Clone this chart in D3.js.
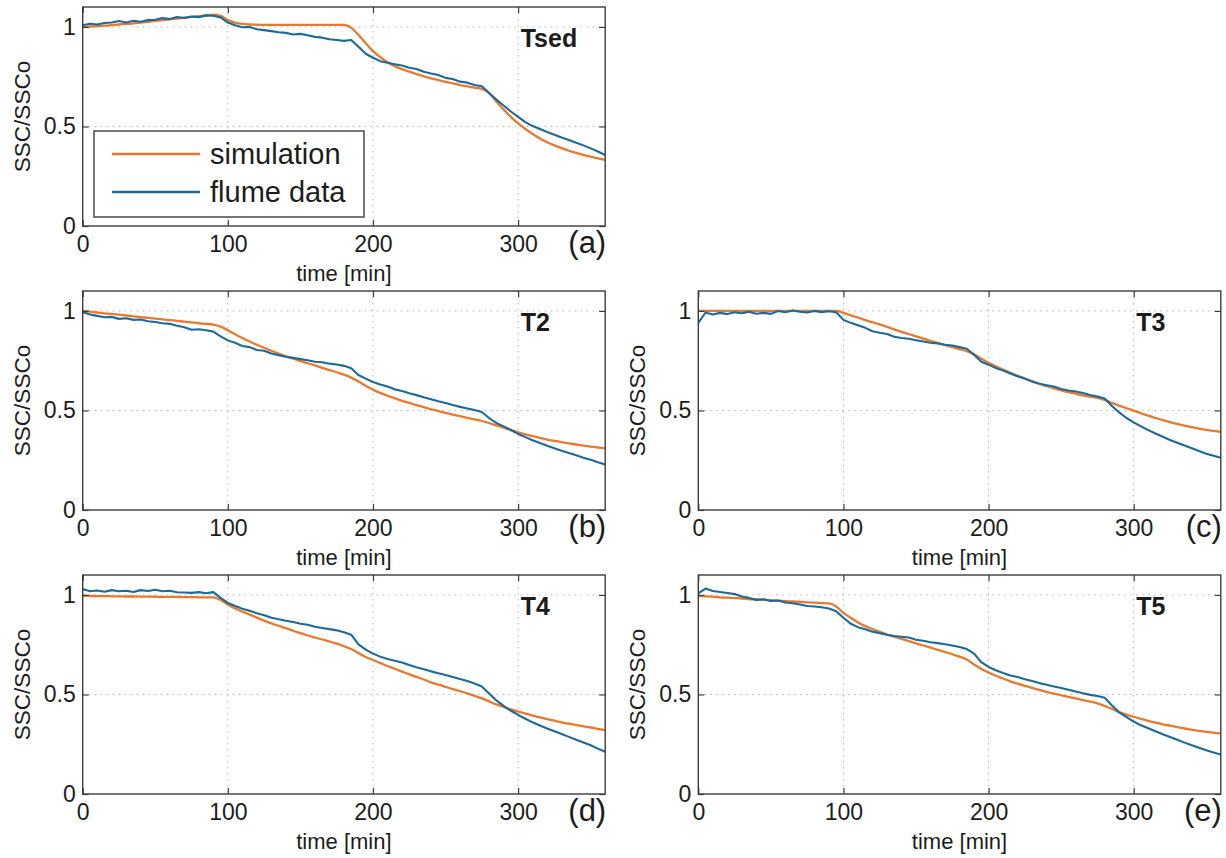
<!DOCTYPE html>
<html>
<meta charset="utf-8">
<script src="https://d3js.org/d3.v7.min.js"></script>

<style>
    body { margin: 0; background: #fff; }
    text { font-family: Arial, "Liberation Sans", sans-serif; fill: #1c1c1c; }
    .grid { stroke: #b5b5b5; stroke-width: 1; stroke-dasharray: 1.5,4.5; }
    .frame { fill: none; stroke: #3c3c3c; stroke-width: 1.4; }
</style>

<div id="fig"></div>

<script>

// time axis of every series [min], one sample each 5 min
var time = d3.range(0, 361, 5);

// SSC/SSCo
var simTsed = [
    1.000,1.002,1.004,1.006,1.009,1.012,1.015,1.018,1.022,1.026,
    1.030,1.034,1.038,1.042,1.046,1.050,1.054,1.058,1.061,1.055,
    1.035,1.022,1.015,1.012,1.011,1.010,1.010,1.010,1.010,1.010,
    1.010,1.010,1.010,1.010,1.010,1.010,1.010,0.995,0.960,0.918,
    0.878,0.848,0.823,0.803,0.788,0.775,0.763,0.752,0.742,0.733,
    0.724,0.716,0.708,0.701,0.695,0.688,0.668,0.625,0.585,0.548,
    0.515,0.487,0.462,0.440,0.421,0.405,0.391,0.378,0.367,0.357,
    0.348,0.340,0.332];
var flumeTsed = [
    1.008,1.016,1.012,1.020,1.022,1.030,1.022,1.031,1.026,1.034,
    1.036,1.044,1.040,1.050,1.045,1.052,1.049,1.058,1.056,1.048,
    1.022,1.008,0.998,1.000,0.988,0.984,0.979,0.973,0.970,0.962,
    0.965,0.958,0.950,0.946,0.938,0.934,0.930,0.934,0.900,0.865,
    0.845,0.828,0.820,0.812,0.806,0.795,0.789,0.775,0.766,0.758,
    0.744,0.738,0.725,0.720,0.708,0.702,0.668,0.635,0.605,0.575,
    0.548,0.522,0.502,0.487,0.472,0.458,0.445,0.432,0.418,0.405,
    0.390,0.374,0.357];

var simT2 = [
    1.000,0.996,0.992,0.988,0.985,0.981,0.977,0.973,0.969,0.965,
    0.961,0.958,0.954,0.950,0.946,0.942,0.938,0.935,0.931,0.921,
    0.903,0.883,0.864,0.846,0.830,0.815,0.800,0.786,0.772,0.760,
    0.748,0.737,0.726,0.714,0.703,0.692,0.680,0.665,0.645,0.624,
    0.604,0.588,0.574,0.561,0.548,0.538,0.527,0.517,0.506,0.497,
    0.488,0.479,0.471,0.463,0.455,0.447,0.437,0.425,0.413,0.401,
    0.390,0.380,0.371,0.362,0.354,0.347,0.341,0.335,0.329,0.323,
    0.318,0.314,0.310];
var flumeT2 = [
    0.995,0.982,0.975,0.968,0.970,0.960,0.963,0.955,0.957,0.948,
    0.944,0.938,0.935,0.925,0.918,0.905,0.908,0.903,0.896,0.872,
    0.852,0.840,0.824,0.818,0.804,0.800,0.786,0.778,0.770,0.764,
    0.758,0.752,0.745,0.742,0.735,0.731,0.724,0.712,0.678,0.660,
    0.643,0.630,0.620,0.606,0.598,0.586,0.577,0.566,0.556,0.546,
    0.537,0.527,0.518,0.510,0.502,0.492,0.462,0.437,0.420,0.402,
    0.382,0.366,0.350,0.337,0.323,0.310,0.298,0.286,0.275,0.263,
    0.252,0.240,0.229];

var simT3 = [
    1.000,1.000,1.000,1.000,1.000,1.000,1.000,1.000,1.000,1.000,
    1.000,1.000,1.000,1.000,1.000,1.000,1.000,1.000,1.000,1.000,
    0.990,0.978,0.966,0.954,0.943,0.932,0.920,0.907,0.895,0.884,
    0.872,0.861,0.850,0.839,0.828,0.818,0.808,0.798,0.782,0.760,
    0.740,0.722,0.705,0.689,0.674,0.660,0.646,0.634,0.622,0.611,
    0.601,0.592,0.584,0.576,0.569,0.563,0.553,0.538,0.524,0.511,
    0.499,0.486,0.474,0.462,0.451,0.441,0.432,0.424,0.416,0.409,
    0.402,0.397,0.392];
var flumeT3 = [
    0.940,0.992,0.982,0.990,0.984,0.993,0.988,0.996,0.986,0.990,
    0.985,1.000,0.993,1.002,0.996,0.992,1.000,0.994,0.998,0.993,
    0.955,0.940,0.928,0.915,0.898,0.890,0.884,0.870,0.864,0.860,
    0.853,0.846,0.840,0.836,0.830,0.826,0.818,0.810,0.780,0.745,
    0.730,0.713,0.700,0.686,0.672,0.660,0.645,0.634,0.627,0.620,
    0.608,0.600,0.595,0.588,0.578,0.570,0.560,0.522,0.490,0.462,
    0.440,0.420,0.401,0.384,0.368,0.352,0.338,0.324,0.310,0.296,
    0.283,0.272,0.262];

var simT4 = [
    0.995,0.995,0.994,0.994,0.993,0.993,0.992,0.992,0.991,0.991,
    0.991,0.990,0.990,0.990,0.989,0.989,0.988,0.988,0.988,0.975,
    0.952,0.932,0.916,0.901,0.886,0.871,0.857,0.845,0.833,0.820,
    0.808,0.796,0.786,0.776,0.766,0.755,0.742,0.728,0.708,0.688,
    0.673,0.658,0.643,0.629,0.615,0.601,0.588,0.575,0.561,0.549,
    0.538,0.527,0.516,0.505,0.493,0.480,0.465,0.450,0.437,0.425,
    0.414,0.404,0.394,0.385,0.376,0.368,0.360,0.353,0.346,0.340,
    0.334,0.327,0.321];
var flumeT4 = [
    1.030,1.018,1.022,1.016,1.024,1.018,1.021,1.015,1.024,1.020,
    1.026,1.018,1.021,1.013,1.012,1.010,1.014,1.008,1.014,0.985,
    0.960,0.944,0.930,0.920,0.908,0.898,0.885,0.878,0.870,0.864,
    0.855,0.850,0.840,0.834,0.828,0.822,0.812,0.800,0.752,0.725,
    0.705,0.690,0.678,0.669,0.660,0.648,0.637,0.627,0.616,0.607,
    0.598,0.588,0.578,0.568,0.555,0.540,0.505,0.470,0.443,0.418,
    0.397,0.378,0.360,0.344,0.329,0.315,0.301,0.287,0.273,0.259,
    0.245,0.228,0.212];

var simT5 = [
    0.995,0.993,0.991,0.988,0.986,0.984,0.982,0.979,0.977,0.975,
    0.973,0.971,0.969,0.967,0.965,0.963,0.961,0.959,0.957,0.942,
    0.910,0.885,0.862,0.843,0.828,0.814,0.801,0.790,0.779,0.768,
    0.757,0.746,0.735,0.724,0.713,0.702,0.690,0.675,0.650,0.628,
    0.610,0.594,0.580,0.566,0.554,0.543,0.533,0.523,0.513,0.504,
    0.496,0.488,0.480,0.472,0.464,0.455,0.442,0.427,0.412,0.399,
    0.388,0.377,0.367,0.358,0.350,0.343,0.336,0.329,0.323,0.317,
    0.312,0.308,0.304];
var flumeT5 = [
    1.008,1.032,1.020,1.015,1.010,1.004,0.992,0.985,0.975,0.978,
    0.970,0.972,0.962,0.958,0.952,0.944,0.942,0.938,0.932,0.918,
    0.885,0.855,0.838,0.828,0.815,0.808,0.800,0.794,0.790,0.786,
    0.775,0.770,0.762,0.758,0.752,0.746,0.738,0.728,0.705,0.662,
    0.638,0.622,0.608,0.595,0.588,0.576,0.568,0.557,0.549,0.540,
    0.532,0.524,0.515,0.506,0.498,0.492,0.483,0.445,0.410,0.386,
    0.364,0.345,0.330,0.315,0.300,0.286,0.272,0.258,0.245,0.232,
    0.220,0.209,0.198];

var panelNames   = ["Tsed", "T2", "T3", "T4", "T5"];
var panelLetters = ["(a)", "(b)", "(c)", "(d)", "(e)"];
var simSeries    = [simTsed, simT2, simT3, simT4, simT5];
var flumeSeries  = [flumeTsed, flumeT2, flumeT3, flumeT4, flumeT5];

var xTicks = [0, 100, 200, 300];
var yTicks = [0, 0.5, 1];
var yTickLabels = ["0", "0.5", "1"];
var legendLabels = ["simulation", "flume data"];

//------------//
//   Layout   //
//------------//

var colLeft = [82.7, 698.3];
var rowTop  = [7, 291, 575];
// panel -> [column, row]
var slot = [[0, 0], [0, 1], [1, 1], [0, 2], [1, 2]];

var width = 522.5,
    height = 219;

var simColour = "#e8792f",
    flumeColour = "#1b6a9a";

var svg = d3.select("#fig")
    .append("svg")
        .attr("width", 1226)
        .attr("height", 858);

var x = d3.scaleLinear().domain([0, 360]).range([0, width]);
var y = d3.scaleLinear().domain([0, 1.1]).range([height, 0]);

svg.append("clipPath").attr("id", "plotClip")
    .append("rect")
        .attr("width", width)
        .attr("height", height);

var simLine = d3.line()
    .x(function(d, i) { return x(time[i]); })
    .y(function(d) { return y(d); })
    .curve(d3.curveMonotoneX);

var flumeLine = d3.line()
    .x(function(d, i) { return x(time[i]); })
    .y(function(d) { return y(d); });

panelNames.forEach(function(name, p) {

    var g = svg.append("g")
        .attr("transform", "translate(" + colLeft[slot[p][0]] + "," + rowTop[slot[p][1]] + ")");

    // dotted grid
    g.selectAll(".gx")
        .data(xTicks.slice(1))
        .enter()
        .append("line")
            .attr("class", "grid")
            .attr("x1", function(d) { return x(d); })
            .attr("x2", function(d) { return x(d); })
            .attr("y1", 0)
            .attr("y2", height);
    g.selectAll(".gy")
        .data(yTicks.slice(1))
        .enter()
        .append("line")
            .attr("class", "grid")
            .attr("x1", 0)
            .attr("x2", width)
            .attr("y1", function(d) { return y(d); })
            .attr("y2", function(d) { return y(d); });

    // the two curves
    var lines = g.append("g").attr("clip-path", "url(#plotClip)");
    lines.append("path")
        .datum(simSeries[p])
        .attr("d", simLine)
        .attr("fill", "none")
        .attr("stroke", simColour)
        .attr("stroke-width", 2.3);
    lines.append("path")
        .datum(flumeSeries[p])
        .attr("d", flumeLine)
        .attr("fill", "none")
        .attr("stroke", flumeColour)
        .attr("stroke-width", 2.1)
        .attr("stroke-linejoin", "round");

    // axes: inward ticks on all four sides
    g.append("g")
        .attr("transform", "translate(0," + height + ")")
        .call(d3.axisBottom(x).tickValues(xTicks).tickSize(-6).tickPadding(10))
        .call(styleAxis);
    g.append("g")
        .call(d3.axisTop(x).tickValues(xTicks).tickSize(-6).tickFormat(""))
        .call(styleAxis);
    g.append("g")
        .call(d3.axisLeft(y).tickValues(yTicks).tickSize(-6).tickPadding(7)
            .tickFormat(function(d, i) { return yTickLabels[i]; }))
        .call(styleAxis);
    g.append("g")
        .attr("transform", "translate(" + width + ",0)")
        .call(d3.axisRight(y).tickValues(yTicks).tickSize(-6).tickFormat(""))
        .call(styleAxis);

    g.append("rect")
        .attr("class", "frame")
        .attr("width", width)
        .attr("height", height);

    // labels
    g.append("text")
        .attr("x", width / 2)
        .attr("y", height + 55)
        .attr("text-anchor", "middle")
        .style("font-size", "22px")
        .text("time [min]");

    g.append("text")
        .attr("transform", "translate(-61," + (height / 2) + ") rotate(-90)")
        .attr("text-anchor", "middle")
        .attr("dy", "0.35em")
        .style("font-size", "22.5px")
        .text("SSC/SSCo");

    g.append("text")
        .attr("x", 438)
        .attr("y", 40)
        .style("font-size", "25px")
        .style("font-weight", "bold")
        .text(name);

    g.append("text")
        .attr("x", width + 1)
        .attr("y", height + 27)
        .attr("text-anchor", "end")
        .style("font-size", "31px")
        .text(panelLetters[p]);

    //------------//
    //   Legend   //
    //------------//
    if (p === 0) {
        var lg = g.append("g").attr("transform", "translate(11.3,124)");
        lg.append("rect")
            .attr("width", 270)
            .attr("height", 86)
            .attr("fill", "#fff")
            .attr("stroke", "#3c3c3c")
            .attr("stroke-width", 1.4);
        lg.selectAll("legline")
            .data(legendLabels)
            .enter()
            .append("line")
                .attr("x1", 18)
                .attr("x2", 106)
                .attr("y1", function(d, i) { return 23 + i * 38; })
                .attr("y2", function(d, i) { return 23 + i * 38; })
                .attr("stroke", function(d, i) { return i === 0 ? simColour : flumeColour; })
                .attr("stroke-width", 2.3);
        lg.selectAll("leglabel")
            .data(legendLabels)
            .enter()
            .append("text")
                .attr("x", 116)
                .attr("y", function(d, i) { return 23 + i * 38; })
                .attr("dy", "0.36em")
                .style("font-size", "29px")
                .text(function(d) { return d; });
    }
});

function styleAxis(sel) {
    sel.select(".domain").remove();
    sel.selectAll(".tick line").attr("stroke", "#3c3c3c").attr("stroke-width", 1.2);
    sel.selectAll(".tick text")
        .attr("fill", "#1c1c1c")
        .style("font-size", "23px")
        .style("font-family", "Arial, 'Liberation Sans', sans-serif");
}

</script>
</html>
